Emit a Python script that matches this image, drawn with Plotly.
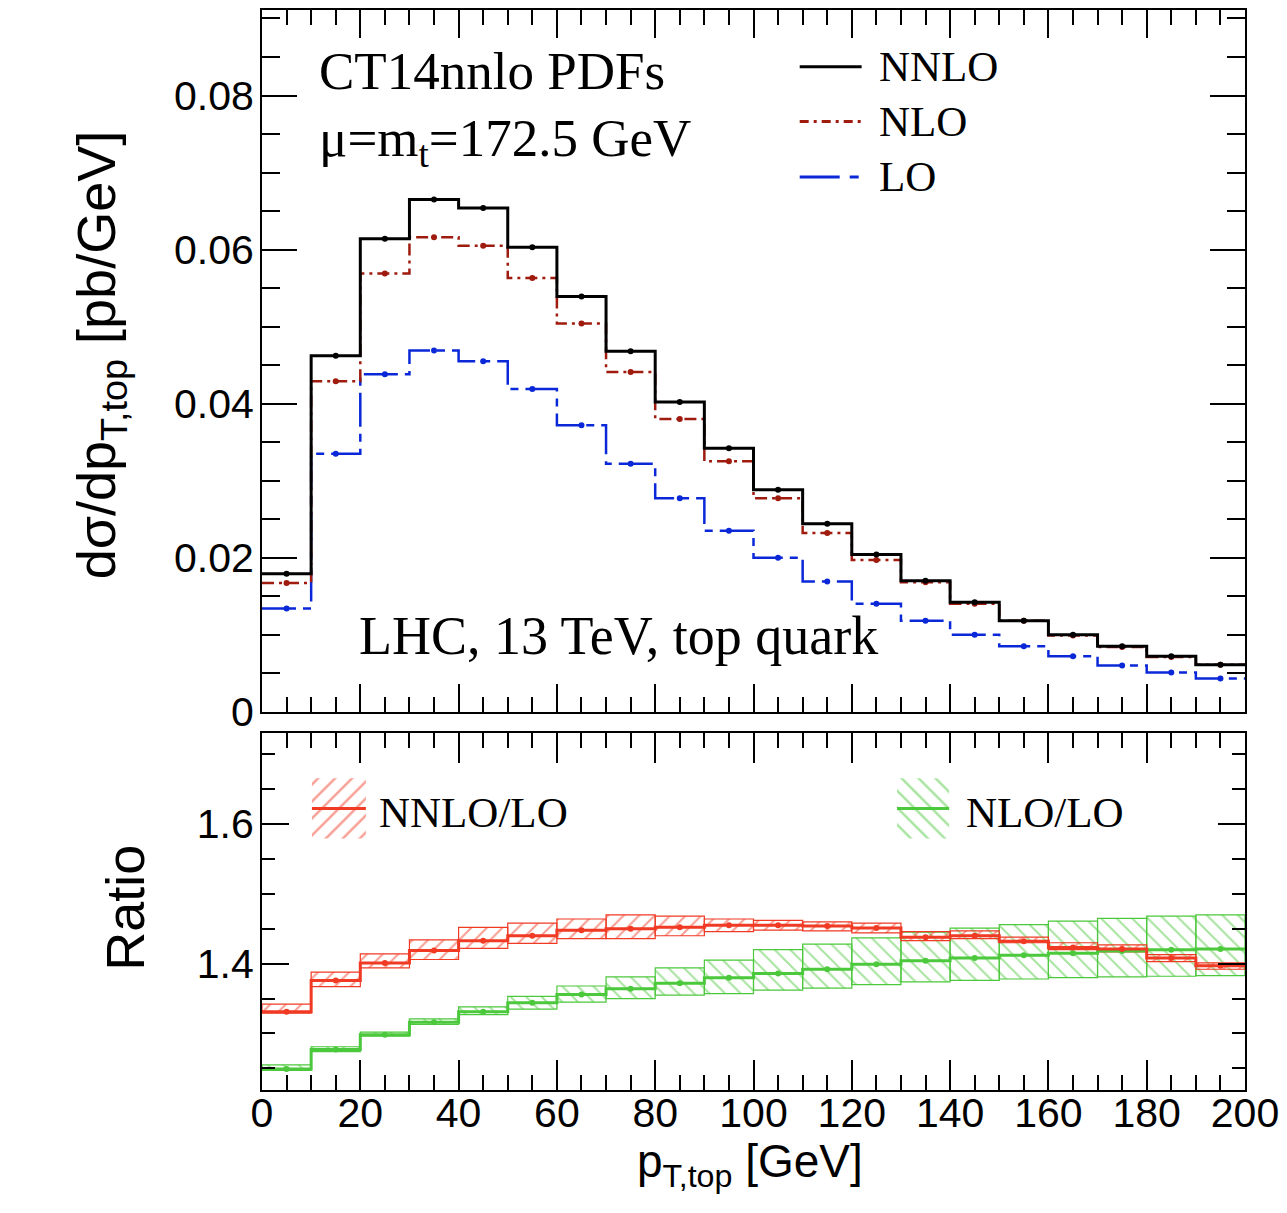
import plotly.graph_objects as go

# ---------------- data ----------------
bin_edges = list(range(0, 201, 10))
bin_centers = [e + 5 for e in bin_edges[:-1]]

nnlo = [0.0179, 0.0462, 0.0614, 0.0665, 0.0654, 0.0603, 0.0539, 0.0468, 0.0402, 0.0342,
        0.0288, 0.0244, 0.0204, 0.0170, 0.0142, 0.0118, 0.0100, 0.0085, 0.0072, 0.0061]
nlo = [0.0167, 0.0429, 0.0569, 0.0616, 0.0605, 0.0563, 0.0504, 0.0441, 0.0380, 0.0325,
       0.0277, 0.0232, 0.0197, 0.0168, 0.0140, 0.0118, 0.0099, 0.0084, 0.0071, 0.0061]
lo = [0.0134, 0.0335, 0.0438, 0.0469, 0.0455, 0.0419, 0.0372, 0.0322, 0.0277, 0.0235,
      0.0200, 0.0169, 0.0140, 0.0118, 0.0100, 0.0085, 0.0072, 0.0060, 0.0051, 0.0043]

r_nnlo = [1.331, 1.376, 1.401, 1.419, 1.433, 1.440, 1.448, 1.450, 1.452, 1.455,
          1.455, 1.454, 1.451, 1.438, 1.440, 1.432, 1.423, 1.421, 1.408, 1.397]
r_nnlo_up = [1.342, 1.388, 1.414, 1.434, 1.452, 1.458, 1.464, 1.470, 1.468, 1.464,
             1.462, 1.460, 1.458, 1.446, 1.447, 1.438, 1.430, 1.427, 1.413, 1.401]
r_nnlo_lo = [1.329, 1.367, 1.394, 1.406, 1.422, 1.429, 1.436, 1.436, 1.440, 1.446,
             1.448, 1.447, 1.444, 1.433, 1.436, 1.430, 1.420, 1.417, 1.403, 1.392]

r_nlo = [1.249, 1.277, 1.298, 1.316, 1.331, 1.344, 1.356, 1.364, 1.372, 1.380,
         1.386, 1.392, 1.399, 1.404, 1.408, 1.412, 1.415, 1.418, 1.420, 1.421]
r_nlo_up = [1.255, 1.281, 1.302, 1.321, 1.338, 1.353, 1.368, 1.381, 1.394, 1.405,
            1.420, 1.428, 1.437, 1.445, 1.451, 1.456, 1.461, 1.465, 1.468, 1.470]
r_nlo_lo = [1.247, 1.274, 1.296, 1.313, 1.327, 1.335, 1.345, 1.350, 1.355, 1.357,
            1.362, 1.365, 1.370, 1.374, 1.376, 1.378, 1.380, 1.381, 1.382, 1.383]

x_ticks = list(range(0, 201, 20))

# ---------------- styles ----------------
C_NNLO = "black"
C_NLO = "#9e1b0e"
C_LO = "#0a28d8"
C_R1 = "#f03a24"
C_R2 = "#4cc83c"
SANS = "Liberation Sans, Arial, Helvetica"
SERIF = "Liberation Serif, Times New Roman, serif"


def step(vals):
    return vals + [vals[-1]]


fig = go.Figure()

# ---------- top panel ----------
for vals, col, dash, w in [(lo, C_LO, "34px,7px,8px,7px", 2.5),
                           (nlo, C_NLO, "12px,5px,3px,5px", 2.5),
                           (nnlo, C_NNLO, "solid", 3)]:
    fig.add_trace(go.Scatter(x=bin_edges, y=step(vals), mode="lines", line_shape="hv",
                             line=dict(color=col, width=w, dash=dash),
                             xaxis="x", yaxis="y", hoverinfo="skip"))
    fig.add_trace(go.Scatter(x=bin_centers, y=vals, mode="markers",
                             marker=dict(color=col, size=6),
                             xaxis="x", yaxis="y"))

# ---------- ratio panel ----------
for cen, up, low, col, shp in [(r_nlo, r_nlo_up, r_nlo_lo, C_R2, "\\"),
                               (r_nnlo, r_nnlo_up, r_nnlo_lo, C_R1, "/")]:
    fig.add_trace(go.Bar(x=bin_centers, base=low, y=[u - l for u, l in zip(up, low)],
                         width=10, xaxis="x2", yaxis="y2",
                         marker=dict(color="rgba(0,0,0,0)",
                                     line=dict(color=col, width=1.2),
                                     pattern=dict(shape=shp, fgcolor=col,
                                                  bgcolor="rgba(0,0,0,0)",
                                                  size=11, solidity=0.18))))
for cen, col in [(r_nlo, C_R2), (r_nnlo, C_R1)]:
    fig.add_trace(go.Scatter(x=bin_edges, y=step(cen), mode="lines", line_shape="hv",
                             line=dict(color=col, width=3), xaxis="x2", yaxis="y2"))
    fig.add_trace(go.Scatter(x=bin_centers, y=cen, mode="markers",
                             marker=dict(color=col, size=6), xaxis="x2", yaxis="y2"))

# ---------- legend keys (overlay unit axes) ----------
leg_top = [("NNLO", C_NNLO, "solid", 0.919),
           ("NLO", C_NLO, "9px,5px,3px,5px", 0.841),
           ("LO", C_LO, "40px,10px,9px,10px", 0.762)]
for name, col, dash, yy in leg_top:
    fig.add_trace(go.Scatter(x=[0.547, 0.610], y=[yy, yy], mode="lines",
                             line=dict(color=col, width=3, dash=dash),
                             xaxis="x3", yaxis="y3"))
    fig.add_annotation(x=0.626, y=yy, xref="x domain", yref="y domain", text=name,
                       showarrow=False, xanchor="left", yanchor="middle",
                       font=dict(family=SERIF, size=43, color="black"))

leg_bot = [("NNLO/LO", C_R1, "/", 0.0508, 0.1057, 0.117),
           ("NLO/LO", C_R2, "\\", 0.646, 0.699, 0.714)]
for name, col, shp, x0, x1, xt in leg_bot:
    fig.add_trace(go.Scatter(x=[x0, x1, x1, x0, x0], y=[0.704, 0.704, 0.872, 0.872, 0.704],
                             mode="none", fill="toself", fillcolor="rgba(0,0,0,0)",
                             fillpattern=dict(shape=shp, fgcolor=col, bgcolor="rgba(0,0,0,0)",
                                              size=12, solidity=0.2),
                             xaxis="x4", yaxis="y4"))
    fig.add_trace(go.Scatter(x=[x0, x1], y=[0.788, 0.788], mode="lines",
                             line=dict(color=col, width=3), xaxis="x4", yaxis="y4"))
    fig.add_annotation(x=xt, y=0.777, xref="x2 domain", yref="y2 domain", text=name,
                       showarrow=False, xanchor="left", yanchor="middle",
                       font=dict(family=SERIF, size=43, color="black"))

# ---------- texts ----------
fig.add_annotation(x=0.056, y=0.913, xref="x domain", yref="y domain",
                   text="CT14nnlo PDFs", showarrow=False, xanchor="left", yanchor="middle",
                   font=dict(family=SERIF, size=53, color="black"))
fig.add_annotation(x=0.056, y=0.812, xref="x domain", yref="y domain",
                   text="μ=m<sub>t</sub>=172.5 GeV", showarrow=False, xanchor="left",
                   yanchor="middle", font=dict(family=SERIF, size=53, color="black"))
fig.add_annotation(x=0.0966, y=0.108, xref="x domain", yref="y domain",
                   text="LHC, 13 TeV, top quark", showarrow=False, xanchor="left",
                   yanchor="middle", font=dict(family=SERIF, size=54, color="black"))

fig.add_annotation(x=-0.165, y=0.681, xref="paper", yref="paper", textangle=-90,
                   text="dσ/dp<sub>T,top</sub> [pb/GeV]", showarrow=False,
                   xanchor="center", yanchor="middle",
                   font=dict(family=SANS, size=54, color="black"))
fig.add_annotation(x=-0.139, y=0.169, xref="paper", yref="paper", textangle=-90,
                   text="Ratio", showarrow=False, xanchor="center", yanchor="middle",
                   font=dict(family=SANS, size=54, color="black"))
fig.add_annotation(x=0.496, y=-0.069, xref="paper", yref="paper",
                   text="p<sub>T,top</sub> [GeV]", showarrow=False,
                   xanchor="center", yanchor="middle",
                   font=dict(family=SANS, size=46, color="black"))

# ---------- axes ----------
common = dict(showline=True, linecolor="black", linewidth=2, mirror="allticks",
              ticks="inside", tickcolor="black", tickwidth=1.5, showgrid=False,
              zeroline=False, tickfont=dict(family=SANS, size=41, color="black"))

fig.update_layout(
    width=1287, height=1213,
    margin=dict(l=262, r=41, t=8, b=123),
    paper_bgcolor="white", plot_bgcolor="white",
    showlegend=False, barmode="overlay",
    xaxis=dict(**common, domain=[0, 1], anchor="y", range=[0, 200], tickvals=x_ticks,
               ticklen=28, showticklabels=False,
               minor=dict(dtick=5, ticklen=15, ticks="inside", tickcolor="black",
                          tickwidth=1.5, showgrid=False)),
    yaxis=dict(**common, domain=[0.3503, 1], anchor="x", range=[0, 0.0911],
               tick0=0, dtick=0.02, ticklen=35, ticklabelstandoff=-2,
               minor=dict(dtick=0.005, ticklen=18, ticks="inside", tickcolor="black",
                          tickwidth=1.5, showgrid=False)),
    xaxis2=dict(**common, domain=[0, 1], anchor="y2", range=[0, 200], tickvals=x_ticks,
                ticklen=30, ticklabelstandoff=-14,
                minor=dict(dtick=5, ticklen=15, ticks="inside", tickcolor="black",
                           tickwidth=1.5, showgrid=False)),
    yaxis2=dict(**common, domain=[0, 0.3309], anchor="x2", range=[1.219, 1.731],
                tick0=0, dtick=0.2, ticklen=27, ticklabelstandoff=-2,
                minor=dict(dtick=0.05, ticklen=13, ticks="inside", tickcolor="black",
                           tickwidth=1.5, showgrid=False)),
    xaxis3=dict(overlaying="x", anchor="y3", range=[0, 1], visible=False),
    yaxis3=dict(overlaying="y", anchor="x3", range=[0, 1], visible=False),
    xaxis4=dict(overlaying="x2", anchor="y4", range=[0, 1], visible=False),
    yaxis4=dict(overlaying="y2", anchor="x4", range=[0, 1], visible=False),
)

fig.write_html("out.html")
